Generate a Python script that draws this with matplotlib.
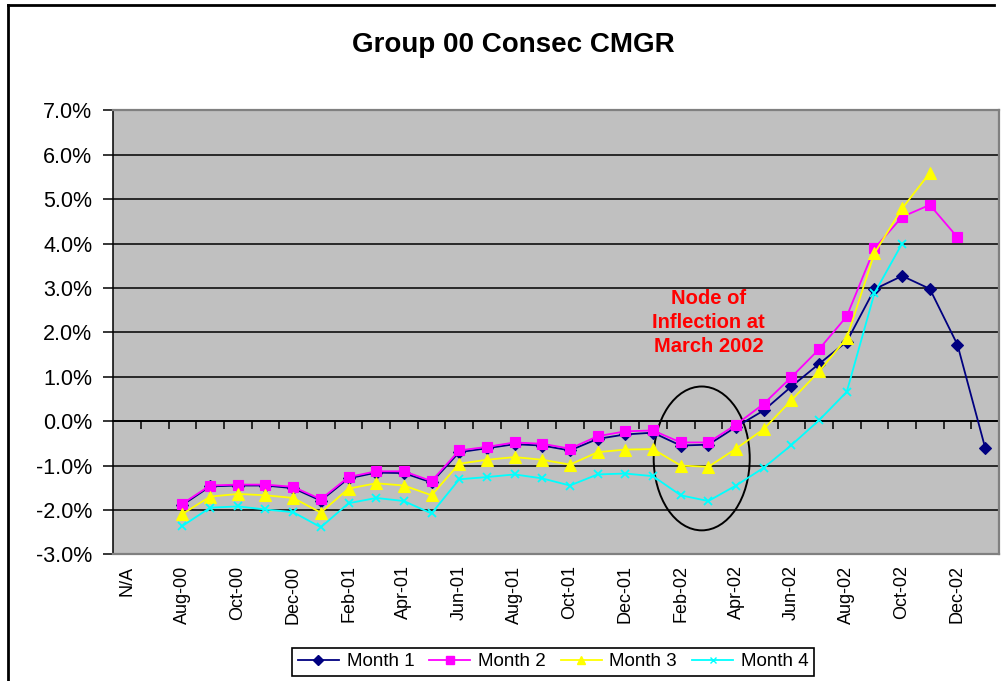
import matplotlib
matplotlib.use("Agg")
import matplotlib.pyplot as plt
from matplotlib.patches import Ellipse
from matplotlib.lines import Line2D
from matplotlib.ticker import FuncFormatter, FixedLocator

plt.rcParams['font.family'] = ['Liberation Sans', 'DejaVu Sans']

# categories: N/A then Jul-00 .. Jan-03
months = ["N/A", "Jul-00", "Aug-00", "Sep-00", "Oct-00", "Nov-00", "Dec-00",
          "Jan-01", "Feb-01", "Mar-01", "Apr-01", "May-01", "Jun-01", "Jul-01",
          "Aug-01", "Sep-01", "Oct-01", "Nov-01", "Dec-01", "Jan-02", "Feb-02",
          "Mar-02", "Apr-02", "May-02", "Jun-02", "Jul-02", "Aug-02", "Sep-02",
          "Oct-02", "Nov-02", "Dec-02", "Jan-03"]

# values in %, all series start at Aug-00
month1 = [-1.89, -1.47, -1.45, -1.45, -1.51, -1.79, -1.29, -1.16, -1.17, -1.38,
          -0.70, -0.61, -0.52, -0.55, -0.66, -0.40, -0.30, -0.26, -0.55, -0.53, -0.13,
          0.24, 0.78, 1.29, 1.79, 2.97, 3.27, 2.98, 1.72, -0.60]
month2 = [-1.86, -1.45, -1.43, -1.43, -1.48, -1.76, -1.26, -1.13, -1.13, -1.35,
          -0.66, -0.58, -0.48, -0.51, -0.62, -0.34, -0.23, -0.21, -0.48, -0.48, -0.08,
          0.39, 0.99, 1.62, 2.36, 3.89, 4.60, 4.87, 4.14]
month3 = [-2.09, -1.70, -1.64, -1.67, -1.73, -2.06, -1.52, -1.40, -1.45, -1.67,
          -0.96, -0.87, -0.81, -0.87, -0.98, -0.70, -0.64, -0.63, -1.00, -1.03, -0.62,
          -0.18, 0.47, 1.12, 1.87, 3.78, 4.79, 5.59]
month4 = [-2.36, -1.95, -1.92, -1.99, -2.05, -2.39, -1.85, -1.73, -1.80, -2.08,
          -1.31, -1.26, -1.20, -1.29, -1.45, -1.20, -1.18, -1.24, -1.67, -1.80, -1.45,
          -1.05, -0.54, 0.02, 0.66, 2.88, 4.00]

series = [("Month 1", month1, "#000080", "D", 6),
          ("Month 2", month2, "#FF00FF", "s", 7),
          ("Month 3", month3, "#FFFF00", "^", 8),
          ("Month 4", month4, "#00FFFF", "x", 6)]
start = months.index("Aug-00")

fig = plt.figure(figsize=(10.02, 6.81), dpi=100)
ax = fig.add_axes([0.113, 0.186, 0.884, 0.652])
ax.set_facecolor("#C0C0C0")

for name, vals, col, mk, ms in series:
    xs = range(start, start + len(vals))
    ax.plot(list(xs), vals, color=col, marker=mk, markersize=ms, lw=1.3,
            markeredgecolor=col, markeredgewidth=1.3 if mk == "x" else 0.8,
            label=name, clip_on=False)

ax.set_xlim(-0.5, len(months) - 0.5)
ax.set_ylim(-3, 7)
ax.yaxis.set_major_locator(FixedLocator(range(-3, 8)))
ax.yaxis.set_major_formatter(FuncFormatter(lambda v, p: f"{v:.1f}%"))
ax.grid(axis="y", color="black", lw=1.1)
ax.set_axisbelow(True)

ax.set_xticks(range(0, len(months), 2))
ax.set_xticklabels(months[::2], rotation=90)
ax.tick_params(axis="x", length=0, labelsize=13, pad=8)
ax.tick_params(axis="y", length=7, width=1.1, labelsize=15.5, pad=8)

for s in ["top", "right", "bottom"]:
    ax.spines[s].set_color("#808080")
    ax.spines[s].set_linewidth(1.6)
ax.spines["left"].set_color("black")
ax.spines["left"].set_linewidth(1.1)

# category axis crosses at 0%
sec = ax.secondary_xaxis(0.3)
sec.set_xticks([i + 0.5 for i in range(len(months) - 1)])
sec.set_xticklabels([])
sec.tick_params(direction="out", length=6, width=1.1, color="black")
sec.spines["bottom"].set_color("black")
sec.spines["bottom"].set_linewidth(1.3)

# inflection circle and note
ax.add_patch(Ellipse((20.76, -0.84), 3.47, 3.24, fill=False, ec="black", lw=1.4))
ax.text(21.0, 2.22, "Node of\nInflection at\nMarch 2002", color="red",
        fontsize=14.5, fontweight="bold", ha="center", va="center", linespacing=1.35)

fig.text(0.512, 0.934, "Group 00 Consec CMGR", ha="center", va="center",
         fontsize=20, fontweight="bold")

handles = [Line2D([], [], color=c, marker=m, markersize=ms * 0.8, lw=1.3,
                  markeredgecolor=c) for _, _, c, m, ms in series]
leg = fig.legend(handles, [s[0] for s in series], loc="center", ncol=4,
                 bbox_to_anchor=(0.552, 0.028), fontsize=13.5, frameon=True,
                 fancybox=False, edgecolor="black", framealpha=1,
                 handlelength=2.2, columnspacing=0.8, handletextpad=0.4,
                 borderpad=0.3)
leg.get_frame().set_linewidth(1.2)

# outer chart border (cropped on right and bottom)
fig.add_artist(Line2D([0.008, 0.008], [0.0, 0.993], color="black", lw=2,
                      transform=fig.transFigure))
fig.add_artist(Line2D([0.008, 0.992], [0.993, 0.993], color="black", lw=2,
                      transform=fig.transFigure))

fig.savefig("out.png", dpi=100)
